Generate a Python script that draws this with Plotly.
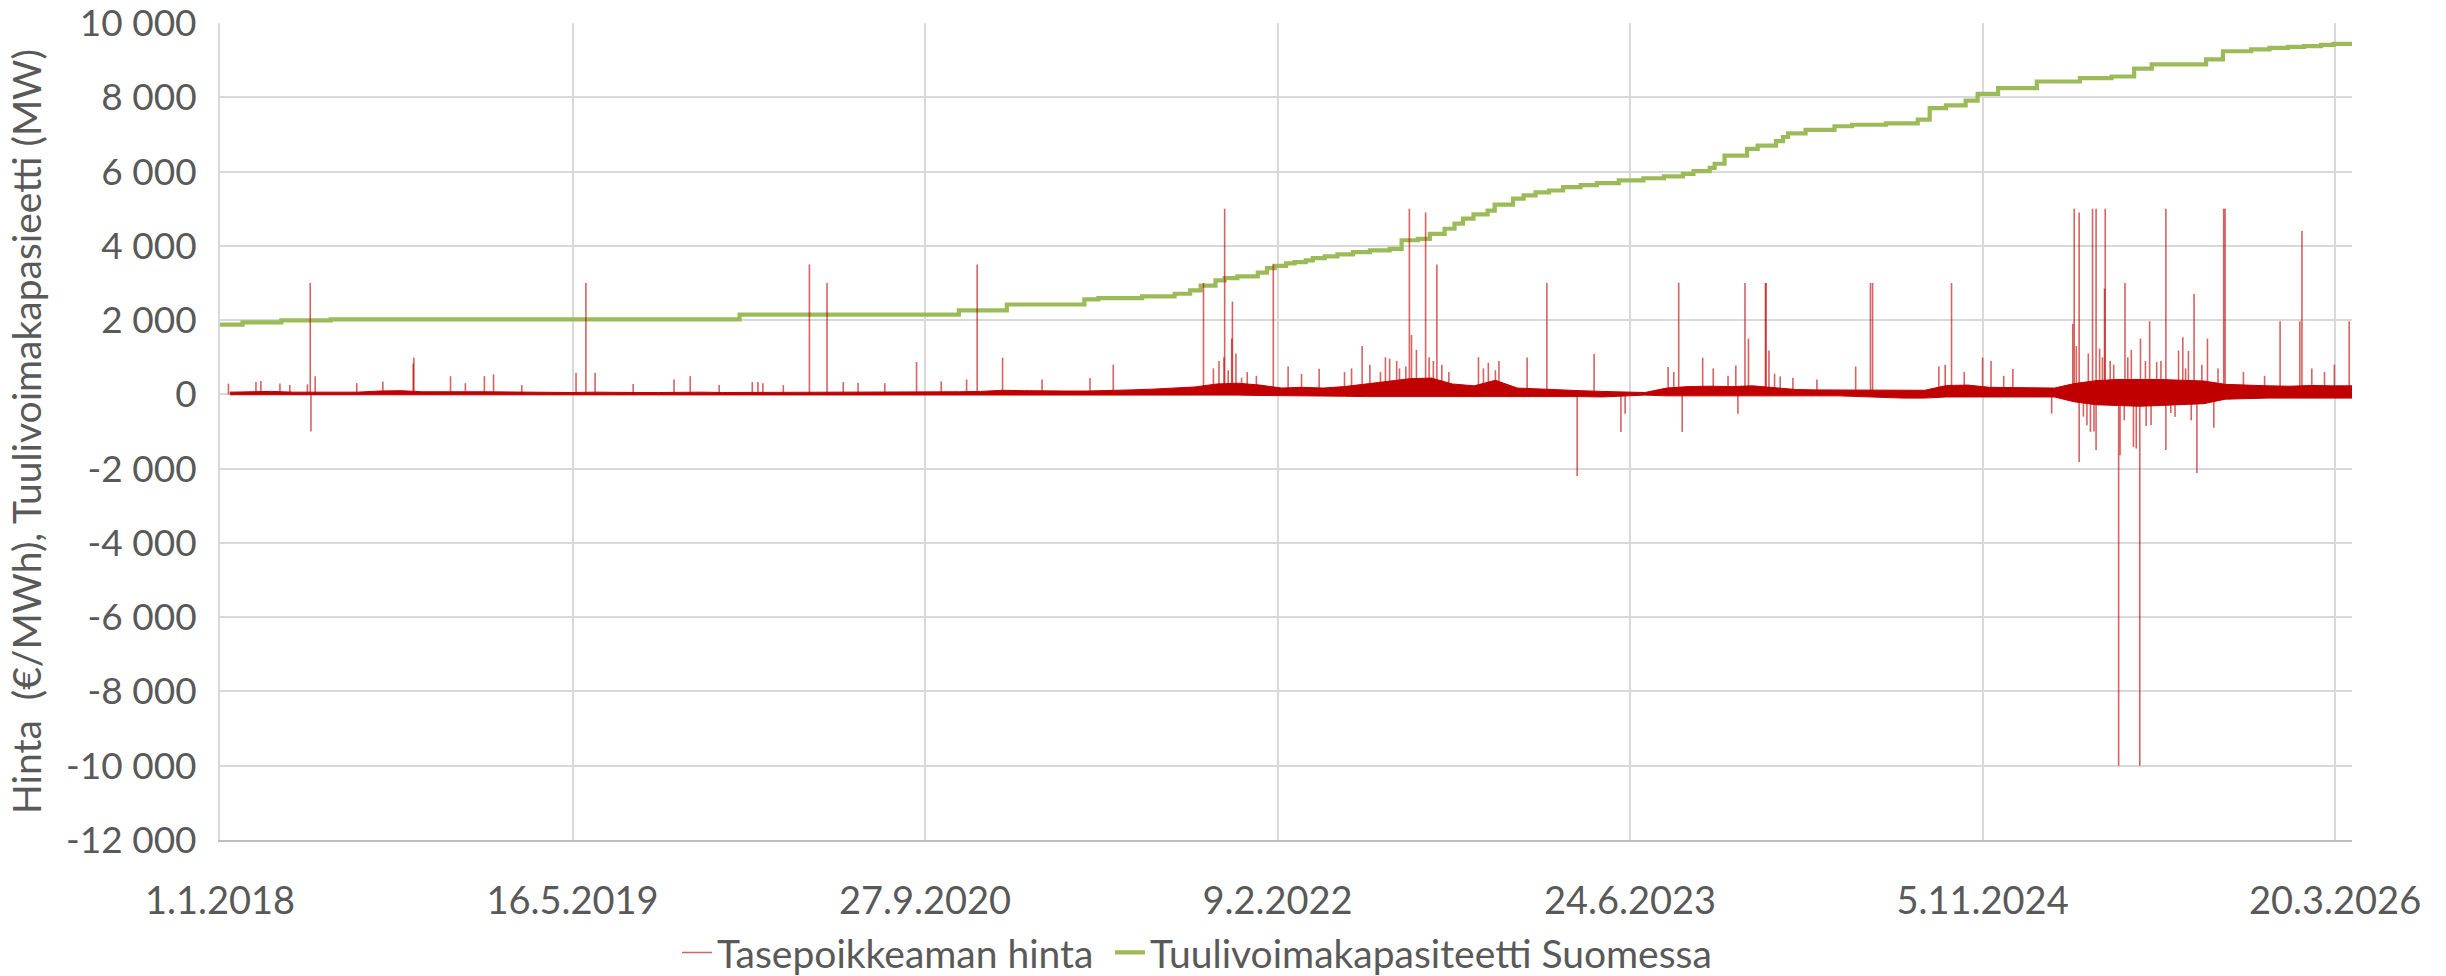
import pandas as pd
import plotly.graph_objects as go

# ---------------------------------------------------------------------------
# Wind power capacity in Finland (MW): date each level starts, step series
# ---------------------------------------------------------------------------
wind_dates = [
    "2018-01-01", "2018-02-02", "2018-03-29", "2018-06-07", "2020-01-08",
    "2020-11-14", "2021-01-21", "2021-05-11", "2021-05-31", "2021-08-01",
    "2021-09-16", "2021-10-08", "2021-10-23", "2021-11-13", "2021-11-26",
    "2021-12-14", "2022-01-12", "2022-01-25", "2022-02-05", "2022-02-21",
    "2022-03-05", "2022-03-21", "2022-03-31", "2022-04-17", "2022-05-05",
    "2022-05-27", "2022-06-20", "2022-07-18", "2022-08-04", "2022-08-27",
    "2022-09-13", "2022-10-04", "2022-10-18", "2022-10-30", "2022-11-14",
    "2022-12-04", "2022-12-14", "2023-01-09", "2023-01-24", "2023-02-10",
    "2023-03-01", "2023-03-21", "2023-04-15", "2023-05-08", "2023-06-08",
    "2023-07-13", "2023-08-11", "2023-09-07", "2023-09-22", "2023-10-15",
    "2023-10-22", "2023-11-05", "2023-12-07", "2023-12-22", "2024-01-17",
    "2024-01-27", "2024-02-03", "2024-02-28", "2024-04-09", "2024-05-04",
    "2024-06-21", "2024-08-05", "2024-08-22", "2024-09-14", "2024-10-12",
    "2024-10-29", "2024-11-27", "2025-01-21", "2025-03-23", "2025-05-07",
    "2025-06-08", "2025-07-03", "2025-09-18", "2025-10-12", "2025-11-21",
    "2025-12-17", "2026-01-12", "2026-02-04", "2026-02-28", "2026-03-18",
    "2026-04-13",
]
wind_mw = [
    1880, 1940, 1990, 2020, 2150,
    2260, 2420, 2560, 2590, 2640,
    2710, 2800, 2930, 3070, 3130,
    3180, 3280, 3400, 3460, 3530,
    3560, 3610, 3670, 3715, 3770,
    3830, 3880, 3920, 4150, 4190,
    4320, 4460, 4600, 4730, 4845,
    4950, 5110, 5270, 5360, 5440,
    5490, 5580, 5635, 5690, 5760,
    5820, 5870, 5940, 6010, 6100,
    6210, 6430, 6610, 6700, 6820,
    6930, 7030, 7125, 7220, 7260,
    7295, 7400, 7710, 7780, 7910,
    8090, 8245, 8425, 8515, 8560,
    8770, 8885, 9020, 9240, 9290,
    9330, 9360, 9380, 9410, 9440,
    9440,
]

# ---------------------------------------------------------------------------
# Imbalance price (EUR/MWh): typical monthly range (Jan 2018 .. Apr 2026)
# ---------------------------------------------------------------------------
price_hi = [
    60, 70, 80, 60, 60, 60, 60, 90, 100, 70, 60, 70,          # 2018
    70, 60, 50, 50, 50, 60, 50, 50, 50, 60, 60, 50,           # 2019
    50, 50, 60, 70, 70, 60, 50, 70, 60, 60, 70, 80,           # 2020
    110, 100, 90, 90, 90, 100, 120, 140, 170, 200, 280, 300,  # 2021
    250, 170, 190, 170, 210, 280, 350, 420, 440, 280, 230, 380,  # 2022
    170, 150, 140, 100, 80, 60, 50, 170, 210, 220, 210, 230,  # 2023
    170, 130, 120, 120, 100, 100, 100, 110, 240, 250, 190, 190,  # 2024
    190, 170, 290, 370, 400, 410, 400, 380, 360, 270, 240, 230,  # 2025
    220, 240, 230, 230,                                        # 2026
]
price_lo = [
    -10, -10, -10, -10, -5, -5, -5, -5, -5, -10, -10, -10,
    -10, -10, -15, -10, -10, -10, -10, -5, -5, -10, -10, -15,
    -20, -20, -20, -25, -20, -20, -20, -15, -15, -15, -20, -20,
    -15, -15, -20, -20, -20, -20, -15, -10, -10, -10, -20, -20,
    -30, -30, -30, -40, -50, -60, -60, -60, -60, -50, -40, -50,
    -40, -40, -50, -60, -70, -40, -20, -40, -40, -40, -40, -40,
    -30, -30, -30, -40, -60, -90, -100, -100, -70, -70, -70, -70,
    -70, -70, -200, -280, -300, -320, -300, -280, -250, -130, -110, -100,
    -100, -110, -100, -100,
]

# Individual price spikes (date, EUR/MWh)
spike_dates = [
    "2018-01-13", "2018-02-21", "2018-02-28", "2018-03-27", "2018-04-10",
    "2018-05-05", "2018-05-09", "2018-05-10", "2018-05-16", "2018-07-14",
    "2018-08-20", "2018-10-02", "2018-10-03", "2018-11-24", "2018-12-15",
    "2019-01-11", "2019-01-24", "2019-03-05", "2019-05-21", "2019-06-04",
    "2019-06-17", "2019-08-10", "2019-10-07", "2019-10-30", "2019-12-10",
    "2020-01-26", "2020-02-03", "2020-02-10", "2020-03-10", "2020-04-16",
    "2020-05-11", "2020-06-03", "2020-06-24", "2020-08-01", "2020-09-15",
    "2020-10-20", "2020-11-25", "2020-12-10", "2021-01-15", "2021-03-12",
    "2021-05-19", "2021-06-21", "2021-10-27", "2021-11-10", "2021-11-18",
    "2021-11-25", "2021-11-26", "2021-12-01", "2021-12-06", "2021-12-07",
    "2021-12-12", "2021-12-20", "2021-12-28", "2022-01-10", "2022-02-03",
    "2022-02-24", "2022-03-15", "2022-04-09", "2022-05-15", "2022-05-25",
    "2022-06-09", "2022-06-20", "2022-07-05", "2022-07-12", "2022-07-18",
    "2022-07-28", "2022-08-01", "2022-08-10", "2022-08-15", "2022-08-18",
    "2022-08-25", "2022-09-07", "2022-09-12", "2022-09-18", "2022-09-23",
    "2022-09-30", "2022-10-10", "2022-11-21", "2022-11-28", "2022-12-05",
    "2022-12-15", "2022-12-20", "2023-01-29", "2023-02-26", "2023-04-10",
    "2023-05-04", "2023-06-11", "2023-06-17", "2023-08-17", "2023-08-25",
    "2023-09-01", "2023-09-06", "2023-10-05", "2023-10-20", "2023-11-10",
    "2023-11-21", "2023-11-24", "2023-12-04", "2023-12-09", "2024-01-02",
    "2024-01-03", "2024-01-07", "2024-01-15", "2024-01-23", "2024-02-10",
    "2024-03-15", "2024-05-09", "2024-05-30", "2024-06-02", "2024-09-04",
    "2024-09-13", "2024-09-22", "2024-10-10", "2024-11-05", "2024-11-17",
    "2024-12-05", "2024-12-18", "2025-02-11", "2025-03-13", "2025-03-15",
    "2025-03-18", "2025-03-22", "2025-03-22", "2025-03-28", "2025-04-02",
    "2025-04-04", "2025-04-07", "2025-04-10", "2025-04-12", "2025-04-15",
    "2025-04-15", "2025-04-20", "2025-04-24", "2025-04-27", "2025-04-28",
    "2025-05-05", "2025-05-10", "2025-05-17", "2025-05-19", "2025-05-25",
    "2025-05-26", "2025-05-30", "2025-06-04", "2025-06-07", "2025-06-11",
    "2025-06-16", "2025-06-17", "2025-06-24", "2025-06-25", "2025-06-30",
    "2025-07-02", "2025-07-10", "2025-07-16", "2025-07-23", "2025-07-23",
    "2025-07-30", "2025-08-05", "2025-08-10", "2025-08-16", "2025-08-20",
    "2025-08-24", "2025-08-28", "2025-09-01", "2025-09-05", "2025-09-12",
    "2025-09-20", "2025-09-29", "2025-10-05", "2025-10-13", "2025-10-15",
    "2025-11-10", "2025-12-10", "2026-01-01", "2026-01-29", "2026-02-01",
    "2026-02-15", "2026-03-05", "2026-03-19", "2026-04-09",
]
spike_values = [
    290, 330, 360, 290, 250,
    270, 3000, -1000, 490, 300,
    350, 830, 990, 490, 300,
    490, 540, 250, 580, 3000,
    580, 280, 400, 490, 250,
    330, 330, 300, 250, 3500,
    3000, 330, 310, 300, 870,
    350, 400, 3500, 990, 400,
    440, 800, 3000, 700, 900,
    1000, 5000, 650, 1500, 2500,
    1100, 450, 600, 500, 3500,
    750, 550, 690, 600, 700,
    1300, 800, 600, 1000, 960,
    900, 700, 750, 5000, 1600,
    1200, 4900, 1000, 900, 3500,
    800, 600, 1000, 700, 850,
    650, 900, 990, 3000, -2200,
    1090, -1010, -520, 735, 600,
    3000, -1010, 990, 700, 500,
    780, -520, 3000, 1500, 3000,
    3000, 1180, 560, 484, 450,
    400, 750, 3000, 3000, 750,
    800, 3000, 600, 990, 900,
    500, 680, -520, 1900, 5000,
    1300, 4900, -1820, -600, -830,
    1100, -1010, 5000, -1000, 5000,
    -1500, 1230, 1000, 2850, 5000,
    900, 800, -10000, -1640, -700,
    3000, 1000, 1200, -1420, -1460,
    -10000, 1500, 900, -850, 1970,
    -830, 870, 900, 5000, -1500,
    -500, -600, 1180, 1540, 700,
    1170, -700, 2700, -2120, 800,
    1500, -900, 700, 5000, 5000,
    600, 500, 1970, 1970, 4400,
    700, 600, 800, 1970,
]

# Axis ticks
x_tick_dates = ["2018-01-01", "2019-05-16", "2020-09-27", "2022-02-09",
                "2023-06-24", "2024-11-05", "2026-03-20"]
x_tick_text = ["1.1.2018", "16.5.2019", "27.9.2020", "9.2.2022",
               "24.6.2023", "5.11.2024", "20.3.2026"]
y_tick_vals = [-12000, -10000, -8000, -6000, -4000, -2000, 0,
               2000, 4000, 6000, 8000, 10000]
y_tick_text = ["-12 000", "-10 000", "-8 000", "-6 000", "-4 000", "-2 000", "0",
               "2 000", "4 000", "6 000", "8 000", "10 000"]

RED = "#C00000"
GREEN = "#9BBB59"
TEXT = "#595959"
GRID = "#D9D9D9"
FONT = "Lato"

band_x = pd.date_range("2018-01-01", "2026-04-01", freq="MS") + pd.Timedelta(days=14)

fig = go.Figure()

fig.add_trace(go.Scatter(
    x=wind_dates, y=wind_mw, mode="lines",
    line=dict(color=GREEN, width=4.2, shape="hv"),
    name="Tuulivoimakapasiteetti Suomessa", legend="legend2",
))

fig.add_trace(go.Scatter(
    x=band_x, y=price_lo, mode="lines",
    line=dict(color=RED, width=1), showlegend=False, hoverinfo="skip",
))
fig.add_trace(go.Scatter(
    x=band_x, y=price_hi, mode="lines",
    line=dict(color=RED, width=1), fill="tonexty", fillcolor=RED,
    showlegend=False, hoverinfo="skip",
))

sx, sy = [], []
for d, v in zip(spike_dates, spike_values):
    sx += [d, d, None]
    sy += [0, v, None]
fig.add_trace(go.Scatter(
    x=sx, y=sy, mode="lines",
    line=dict(color="rgba(192,0,0,0.62)", width=1.6),
    name="Tasepoikkeaman hinta", legend="legend",
))

legend_style = dict(
    orientation="h", xref="container", yref="container",
    xanchor="left", y=0.024, yanchor="middle",
    font=dict(family=FONT, size=39, color=TEXT),
    itemwidth=30, bgcolor="rgba(0,0,0,0)",
)

fig.update_layout(
    width=2446, height=976,
    margin=dict(l=220, r=94, t=23, b=136, autoexpand=False),
    paper_bgcolor="white", plot_bgcolor="white",
    font=dict(family=FONT, size=38, color=TEXT),
    showlegend=True,
    legend=dict(legend_style, x=677 / 2446),
    legend2=dict(legend_style, x=1110 / 2446),
)

fig.update_xaxes(
    type="date",
    range=["2018-01-01", "2026-04-13"],
    tickmode="array", tickvals=x_tick_dates, ticktext=x_tick_text,
    showgrid=True, gridcolor=GRID, gridwidth=1.5,
    showline=True, linecolor="#BFBFBF", linewidth=2,
    ticks="", ticklabelstandoff=26,
    tickfont=dict(family=FONT, size=38, color=TEXT),
    zeroline=False, automargin=False,
)

fig.update_yaxes(
    range=[-12000, 10000.5],
    tickmode="array", tickvals=y_tick_vals, ticktext=y_tick_text,
    showgrid=True, gridcolor=GRID, gridwidth=2,
    showline=True, linecolor=GRID, linewidth=2,
    ticks="", ticklabelstandoff=14, ticklabeloverflow="allow",
    tickfont=dict(family=FONT, size=37, color=TEXT),
    zeroline=False, automargin=False,
    title=dict(text="Hinta  (€/MWh), Tuulivoimakapasieetti (MW)",
               font=dict(family=FONT, size=39, color=TEXT), standoff=12),
)

fig.write_html("out.html")
